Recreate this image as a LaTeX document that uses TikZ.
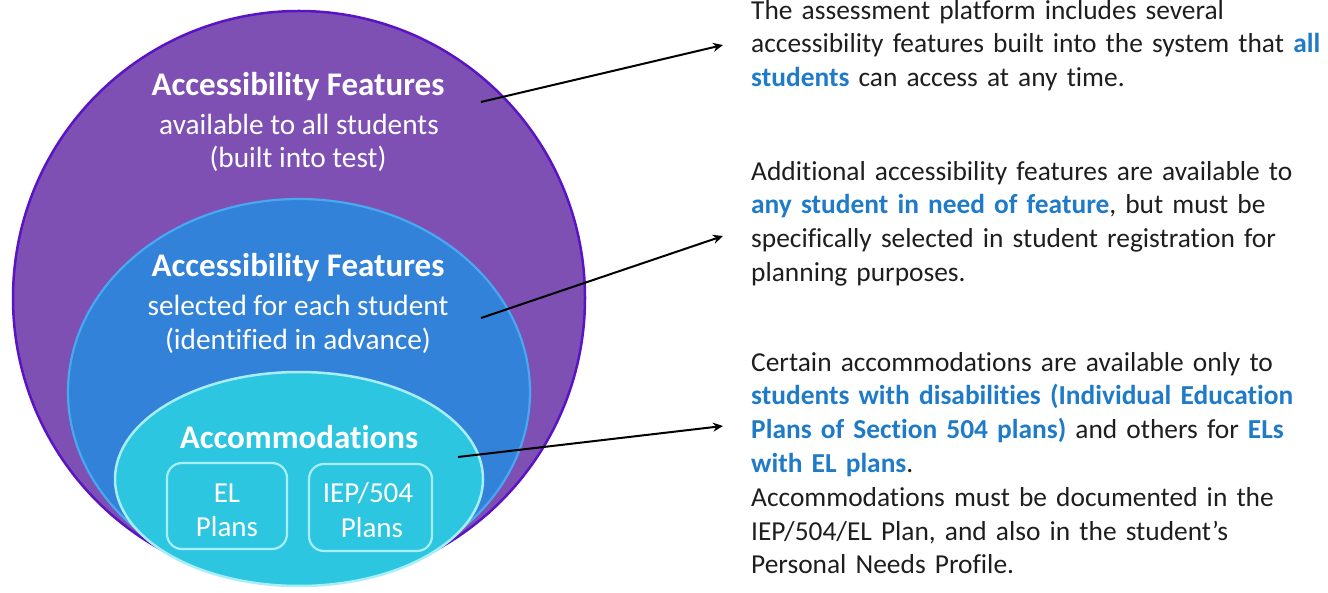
\documentclass[tikz,border=0pt]{standalone}
\usepackage{fontspec}
\setmainfont{Carlito}[Ligatures=NoCommon]
\usetikzlibrary{arrows.meta}

\definecolor{purplefill}{HTML}{7E50B4}
\definecolor{purpleedge}{HTML}{5A14C4}
\definecolor{bluefill}{HTML}{3182D8}
\definecolor{blueedge}{HTML}{48A8F0}
\definecolor{cyanfill}{HTML}{2DC6E0}
\definecolor{cyanedge}{HTML}{A8EEF6}
\definecolor{bodytext}{HTML}{1E1E1E}
\definecolor{hilite}{HTML}{1F7BC8}

\newcommand{\hl}[1]{\textbf{\textcolor{hilite}{#1}}}

\tikzset{
  heading/.style={anchor=base, text=white, inner sep=0pt,
    font=\fontsize{33}{39}\selectfont\bfseries},
  subline/.style={anchor=base, text=white, inner sep=0pt,
    font=\fontsize{29.3}{35}\selectfont},
  planbox/.style={draw=cyanedge, line width=2.2pt, rounded corners=15pt},
  planlabel/.style={anchor=base, text=white, inner sep=0pt,
    font=\fontsize{29}{34}\selectfont},
  note/.style={anchor=north west, inner sep=0pt, text=bodytext,
    text width=575pt, align=left,
    font=\fontsize{27.4}{33.8}\selectfont},
  pointer/.style={draw=black, line width=2pt,
    -{Stealth[length=10pt,width=9pt]}},
}

\begin{document}
\begin{tikzpicture}[x=1pt,y=-1pt]
\useasboundingbox (0,0) rectangle (1328,593);

% nested regions
\draw[fill=purplefill, draw=purpleedge, line width=2.5pt]
  (299,298) ellipse [x radius=286, y radius=287];
\draw[fill=bluefill, draw=blueedge, line width=2.2pt]
  (299,392) ellipse [x radius=231, y radius=193];
\draw[fill=cyanfill, draw=cyanedge, line width=2.5pt]
  (299,479) ellipse [x radius=184, y radius=107];

% outer region labels
\node[heading] (h1) at (298,96) {Accessibility Features};
\node[subline] (s1a) at (299,135) {available to all students};
\node[subline] (s1b) at (298,168) {(built into test)};

% middle region labels
\node[heading] (h2) at (298,277) {Accessibility Features};
\node[subline] (s2a) at (298,316) {selected for each student};
\node[subline] (s2b) at (298,350) {(identified in advance)};

% inner region
\node[heading] (h3) at (299,448) {Accommodations};
\draw[planbox] (167,463) rectangle (287,549);
\draw[planbox] (309,464) rectangle (432,551);
\node[planlabel] (el1) at (227,502) {EL};
\node[planlabel] (el2) at (227,536) {Plans};
\node[planlabel] (iep1) at (368,502) {IEP/504};
\node[planlabel] (iep2) at (372,537) {Plans};

% explanatory notes
\node[note] (n1) at (751,-4.8) {\strut The assessment platform includes several\\
  accessibility features built into the system that \hl{all}\\
  \hl{students} can access at any time.};
\node[note] (n2) at (751,156.2) {\strut Additional accessibility features are available to\\
  \hl{any student in need of feature}, but must be\\
  specifically selected in student registration for\\
  planning purposes.};
\node[note] (n3) at (751,347.2) {\strut Certain accommodations are available only to\\
  \hl{students with disabilities (Individual Education}\\
  \hl{Plans of Section 504 plans)} and others for \hl{ELs}\\
  \hl{with EL plans}.\\
  Accommodations must be documented in the\\
  IEP/504/EL Plan, and also in the student’s\\
  Personal Needs Profile.};

% connectors
\coordinate (a1) at (481,102);
\coordinate (t1) at (723,45);
\coordinate (a2) at (481,318);
\coordinate (t2) at (723,236);
\coordinate (a3) at (458,457);
\coordinate (t3) at (723,426);
\draw[pointer] (a1) -- (t1);
\draw[pointer] (a2) -- (t2);
\draw[pointer] (a3) -- (t3);
\end{tikzpicture}
\end{document}
